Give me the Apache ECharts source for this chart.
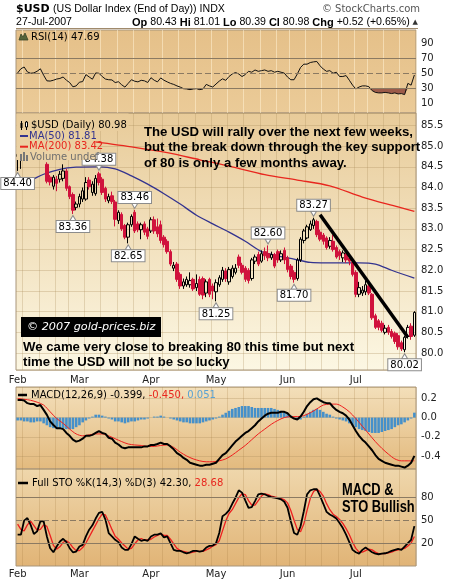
<!DOCTYPE html>
<html><head><meta charset="utf-8">
<script src="https://cdn.jsdelivr.net/npm/echarts@6/dist/echarts.min.js"></script>
<style>html,body{margin:0;padding:0;background:#fff}#c{width:460px;height:582px}</style>
</head><body><div id="c"></div>
<script>
const dates = [
'2007-02-01','2007-02-02','2007-02-05','2007-02-06','2007-02-07','2007-02-08','2007-02-09','2007-02-12','2007-02-13','2007-02-14','2007-02-15','2007-02-16','2007-02-20','2007-02-21','2007-02-22','2007-02-23','2007-02-26','2007-02-27','2007-02-28',
'2007-03-01','2007-03-02','2007-03-05','2007-03-06','2007-03-07','2007-03-08','2007-03-09','2007-03-12','2007-03-13','2007-03-14','2007-03-15','2007-03-16','2007-03-19','2007-03-20','2007-03-21','2007-03-22','2007-03-23','2007-03-26','2007-03-27','2007-03-28','2007-03-29','2007-03-30',
'2007-04-02','2007-04-03','2007-04-04','2007-04-05','2007-04-09','2007-04-10','2007-04-11','2007-04-12','2007-04-13','2007-04-16','2007-04-17','2007-04-18','2007-04-19','2007-04-20','2007-04-23','2007-04-24','2007-04-25','2007-04-26','2007-04-27','2007-04-30',
'2007-05-01','2007-05-02','2007-05-03','2007-05-04','2007-05-07','2007-05-08','2007-05-09','2007-05-10','2007-05-11','2007-05-14','2007-05-15','2007-05-16','2007-05-17','2007-05-18','2007-05-21','2007-05-22','2007-05-23','2007-05-24','2007-05-25','2007-05-29','2007-05-30','2007-05-31',
'2007-06-01','2007-06-04','2007-06-05','2007-06-06','2007-06-07','2007-06-08','2007-06-11','2007-06-12','2007-06-13','2007-06-14','2007-06-15','2007-06-18','2007-06-19','2007-06-20','2007-06-21','2007-06-22','2007-06-25','2007-06-26','2007-06-27','2007-06-28','2007-06-29',
'2007-07-02','2007-07-03','2007-07-05','2007-07-06','2007-07-09','2007-07-10','2007-07-11','2007-07-12','2007-07-13','2007-07-16','2007-07-17','2007-07-18','2007-07-19','2007-07-20','2007-07-23','2007-07-24','2007-07-25','2007-07-26','2007-07-27'];

const openP = [84.75,84.80,84.85,84.95,85.05,84.95,85.00,84.90,84.95,84.56,84.25,84.03,84.20,84.20,84.22,84.40,84.02,83.83,83.52,83.60,
83.72,83.72,84.18,83.88,83.85,84.33,84.20,83.98,83.68,83.80,83.65,83.20,83.35,83.08,82.80,83.10,83.40,83.12,82.98,83.12,
83.00,82.95,83.22,83.05,83.10,82.80,82.70,82.45,82.05,82.15,81.90,81.62,81.65,81.65,81.78,81.58,81.78,81.80,81.45,81.78,
81.62,81.48,81.65,81.78,81.98,81.72,81.85,81.95,82.32,82.12,82.05,82.00,81.80,82.22,82.38,82.22,82.45,82.40,82.30,82.38,
82.45,82.25,82.48,82.30,82.10,81.95,81.80,82.25,82.72,82.78,82.98,83.08,83.18,82.92,82.85,82.78,82.58,82.70,82.55,82.45,
82.30,82.38,82.30,82.20,81.95,81.42,81.45,81.48,81.62,81.42,80.90,80.78,80.72,80.50,80.62,80.52,80.48,80.42,80.25,80.08,
80.40,80.65,80.43];
const closeP = [84.80,84.85,84.95,85.05,84.95,85.00,84.90,84.95,84.85,84.15,84.13,84.25,84.10,84.32,84.40,83.98,83.78,83.45,83.60,83.78,
83.92,84.12,84.02,84.08,84.22,84.12,83.88,83.72,83.78,83.66,83.23,83.40,83.00,82.80,83.10,83.30,82.95,82.98,83.10,82.92,
82.82,83.22,82.95,82.88,82.72,82.62,82.45,82.15,82.12,81.78,81.62,81.72,81.78,81.75,81.55,81.68,81.42,81.40,81.72,81.42,
81.50,81.70,81.82,82.00,81.80,82.02,82.05,82.05,82.12,81.95,81.78,81.75,82.25,82.32,82.15,82.40,82.35,82.30,82.38,82.10,
82.25,82.40,82.25,82.02,81.85,81.78,82.25,82.75,82.95,83.05,83.12,83.22,82.86,82.75,82.70,82.55,82.72,82.50,82.32,82.35,
82.42,82.25,82.22,81.90,81.42,81.58,81.52,81.65,81.45,80.85,80.62,80.62,80.55,80.60,80.50,80.40,80.28,80.15,80.10,80.38,
80.62,80.40,80.98];
const lowP = [84.40,84.45,84.78,84.85,84.85,84.82,84.80,84.78,84.76,84.10,84.05,83.95,83.91,84.12,84.15,83.92,83.72,83.36,83.45,83.52,
83.65,83.68,83.95,83.80,83.80,84.05,83.82,83.65,83.62,83.60,83.06,83.12,82.95,82.75,82.65,83.05,82.90,82.92,82.75,82.85,
82.75,82.90,82.88,82.80,82.65,82.55,82.40,82.10,81.98,81.72,81.55,81.55,81.60,81.58,81.50,81.50,81.38,81.30,81.35,81.35,
81.30,81.25,81.60,81.72,81.72,81.65,81.80,81.90,82.05,81.90,81.72,81.68,81.75,82.15,82.10,82.18,82.25,82.22,82.25,82.05,
82.18,82.20,82.15,81.95,81.78,81.70,81.75,82.20,82.65,82.75,82.95,83.00,82.80,82.70,82.62,82.50,82.52,82.45,82.28,82.25,
82.20,82.18,82.12,81.85,81.35,81.35,81.38,81.40,81.40,80.80,80.58,80.55,80.50,80.45,80.44,80.35,80.22,80.08,80.05,80.02,
80.35,80.32,80.39];
const highP = [84.95,85.00,85.05,85.15,85.15,85.10,85.10,85.05,85.00,84.61,84.30,84.30,84.28,84.40,84.56,84.45,84.05,83.88,83.66,83.85,
84.00,84.25,84.25,84.15,84.30,84.38,84.25,84.02,83.85,83.90,83.70,83.45,83.40,83.12,83.15,83.35,83.46,83.18,83.15,83.18,
83.05,83.28,83.30,83.25,83.20,82.85,82.75,82.50,82.20,82.20,81.95,81.80,81.85,81.95,81.82,81.90,81.85,81.85,81.78,81.82,
81.68,81.78,81.88,82.08,82.05,82.08,82.12,82.15,82.38,82.18,82.10,82.05,82.30,82.38,82.45,82.48,82.55,82.60,82.45,82.42,
82.50,82.48,82.55,82.35,82.15,82.00,82.30,82.80,83.00,83.10,83.20,83.27,83.22,82.98,82.90,82.82,82.80,82.85,82.60,82.50,
82.48,82.42,82.35,82.25,82.00,81.72,81.62,81.75,81.68,81.45,80.95,80.82,80.78,80.68,80.68,80.58,80.52,80.48,80.30,80.42,
80.68,80.72,81.01];

const ma50Pts = [[0,84.05],[4,84.17],[8,84.32],[13,84.44],[18,84.49],[25,84.50],[30,84.45],[35,84.28],[40,84.08],[45,83.85],[50,83.60],[55,83.33],[60,83.12],[65,82.92],[70,82.70],[75,82.45],[80,82.35],[85,82.27],[90,82.19],[95,82.18],[100,82.18],[105,82.18],[110,82.15],[115,82.00],[122,81.81]];
const ma200Pts = [[21,85.13],[35,84.98],[46,84.84],[56,84.67],[66,84.50],[76,84.31],[86,84.18],[96,84.04],[106,83.77],[117,83.53],[122,83.42]];
const trendLine = [[93,83.34],[120,80.38]];
const callouts = [
 {i:0,v:84.40,side:'low'},{i:17,v:83.36,side:'low'},{i:25,v:84.38,side:'high'},{i:34,v:82.65,side:'low'},
 {i:36,v:83.46,side:'high'},{i:61,v:81.25,side:'low'},{i:77,v:82.60,side:'high'},{i:85,v:81.70,side:'low'},
 {i:91,v:83.27,side:'high'},{i:119,v:80.02,side:'low'}];

const rsi = [50.4,56,58.4,51.8,50,50.5,52.7,56,47.3,39.8, 39.5,40.6,42.2,43,45,40.6,37.5,31.8,33,38,
38.8,48.2,45,42,50.4,50,45.6,42.2,41.3,41, 37.5,38.6,34.5,31.4,36.4,41.3,39.3,38.4,40.5,39.8,
37.6,44,40.6,38.4,43.7,40.6,38.4,36.4,35,33, 31.4,29.3,28.9,28,28.9,29.3,28,28.9,35,33,
31.5,35.5,39.4,42.5,40.5,45.6,49,51,49,45.6, 48.2,52.6,51.4,54.4,52.6,53.5,54.4,52.6,53.5,51.4,
52.6,51.4,50.2,44.9,41.3,41.3,49,57.8,62.2,62.2, 64.4,65.3,65.8,60,55.6,52.6,53.5,50,51.4,45.6,
45.6,46.9,40.6,34,28.9,31.5,33,33,32,26.7, 24.3,23.6,23.6,24.3,23.6,22.7,23.6,22.2,22.7,21.3,
36.4,34,47.69];

const macd = [0.184,0.184,0.178,0.15,0.14,0.14,0.12,0.13,0.08,0.028,
-0.04,-0.077,-0.11,-0.11,-0.12,-0.16,-0.19,-0.23,-0.25,-0.24,
-0.22,-0.19,-0.19,-0.18,-0.16,-0.14,-0.16,-0.17,-0.21,-0.22,
-0.26,-0.28,-0.31,-0.32,-0.31,-0.31,-0.31,-0.31,-0.31,-0.30,
-0.30,-0.285,-0.285,-0.275,-0.26,-0.275,-0.275,-0.30,-0.33,-0.37,
-0.39,-0.42,-0.44,-0.47,-0.48,-0.49,-0.50,-0.50,-0.49,-0.49,
-0.48,-0.47,-0.43,-0.39,-0.37,-0.33,-0.29,-0.25,-0.22,-0.19,
-0.16,-0.14,-0.11,-0.08,-0.04,-0.01,0.02,0.04,0.05,0.05,
0.05,0.06,0.06,0.045,0.01,-0.01,-0.02,0.01,0.06,0.12,
0.16,0.19,0.20,0.18,0.16,0.15,0.15,0.11,0.08,0.06,
0.045,0.02,-0.02,-0.08,-0.14,-0.19,-0.23,-0.26,-0.30,-0.34,
-0.39,-0.43,-0.45,-0.47,-0.48,-0.49,-0.50,-0.50,-0.51,-0.52,
-0.50,-0.47,-0.399];
const signalPts = [[0,0.20],[2,0.19],[4,0.18],[6,0.16],[8,0.13],[10,0.06],[12,-0.01],[14,-0.06],[16,-0.12],[18,-0.17],[20,-0.19],[22,-0.18],[24,-0.17],[26,-0.17],[28,-0.19],[30,-0.22],[32,-0.25],[34,-0.275],[36,-0.285],[38,-0.29],[40,-0.30],[42,-0.30],[44,-0.29],[46,-0.285],[48,-0.31],[50,-0.36],[52,-0.40],[54,-0.43],[56,-0.45],[58,-0.46],[60,-0.46],[62,-0.45],[64,-0.43],[66,-0.39],[68,-0.34],[70,-0.29],[72,-0.23],[74,-0.17],[76,-0.12],[78,-0.07],[80,-0.03],[82,0.00],[84,0.01],[86,0.01],[88,0.02],[90,0.05],[92,0.09],[94,0.13],[96,0.14],[98,0.14],[100,0.11],[102,0.06],[104,-0.01],[106,-0.09],[108,-0.17],[110,-0.25],[112,-0.32],[114,-0.38],[116,-0.43],[118,-0.45],[120,-0.45],[122,-0.45]];
const hist = [-0.03,-0.03,-0.04,-0.04,-0.05,-0.05,-0.04,-0.04,-0.06,-0.08,
-0.10,-0.11,-0.12,-0.12,-0.11,-0.12,-0.12,-0.12,-0.10,-0.08,
-0.05,-0.03,-0.01,0.01,0.03,0.03,0.02,0.01,-0.01,-0.02,
-0.04,-0.04,-0.05,-0.06,-0.05,-0.04,-0.04,-0.03,-0.02,-0.02,
-0.01,0.00,0.01,0.01,0.02,0.01,0.00,-0.01,-0.02,-0.03,
-0.04,-0.05,-0.05,-0.06,-0.06,-0.06,-0.06,-0.05,-0.04,-0.03,
-0.02,-0.01,0.01,0.03,0.05,0.07,0.09,0.10,0.11,0.12,
0.12,0.12,0.11,0.10,0.10,0.10,0.10,0.10,0.10,0.09,
0.08,0.07,0.06,0.04,0.02,0.00,-0.02,-0.02,0.01,0.04,
0.06,0.08,0.09,0.08,0.06,0.04,0.03,0.01,-0.01,-0.02,
-0.03,-0.04,-0.06,-0.08,-0.10,-0.12,-0.13,-0.14,-0.15,-0.16,
-0.16,-0.16,-0.15,-0.14,-0.13,-0.12,-0.10,-0.08,-0.07,-0.05,
-0.03,-0.01,0.051];

const stoK = [31,31,49.6,53,44,32,35.4,48.7,48.7,28.7, 13.2,7.8,15.4,22,25.6,21.2,13.2,7.8,8.7,15.4,
17.6,28.7,37.6,43.4,52.3,59.8,61.2,51,33.2,28.7, 24.3,21.2,14.1,11,11,18.5,28.7,25.6,23,24.3,
23,28.7,31,31,32.7,27.4,28.7,19.8,11,9.6, 9.6,7.8,6.5,7.8,9.6,9.6,8.7,9.6,14.1,16.3,
16.7,19.8,33.2,55.4,58.5,63,71.8,79.8,89.6,86.5, 76.3,66.5,67.4,75.4,84.3,85.2,84.3,82.1,80.7,79.8,
79,77.6,74.5,66.5,48.7,33.2,31,42.1,62,84.3, 89.6,91,91,82.1,71.8,61.2,57.6,55.4,52.3,46.5,
39.8,31,21.2,11,7.8,6,11,14.1,11,7.8, 6,5.2,6,6.5,7.8,9.6,11,12.3,11,15.4,
19.8,24.3,42.30];
const stoD = [45,38,36,44,49,43,37,38,44,42, 30,17,12,15,21,23,20,14,10,10,
14,20,28,36,44,52,58,57,48,38, 29,25,20,16,12,13,19,24,26,24,
24,25,28,30,32,30,30,25,19,13, 10,9,8,7,8,9,9,9,11,13,
16,18,23,36,49,59,64,72,80,85, 84,76,70,70,76,82,85,84,82,81,
80,79,77,73,63,50,38,35,45,63, 79,88,91,88,82,72,64,58,55,51,
46,39,31,21,13,8,8,10,12,11, 8,6,6,6,7,8,10,11,12,13,
16,20,28.68];

const rsiTicks = [10,30,50,70,90];
const stoTicks = [20,50,80];

// ---------- derived helpers ----------
const MONTHS = ['Jan','Feb','Mar','Apr','May','Jun','Jul','Aug','Sep','Oct','Nov','Dec'];
const parsed = dates.map(s => { const p = s.split('-').map(Number); return new Date(p[0], p[1]-1, p[2]); });
const monthStart = parsed.map((d,i) => i === 0 || d.getMonth() !== parsed[i-1].getMonth());
const weekStart = parsed.map((d,i) => i > 0 && d.getDay() < parsed[i-1].getDay());

const FONT = 'DejaVu Sans';
function grad(c1, c2){ return {type:'linear',x:0,y:0,x2:0,y2:1,colorStops:[{offset:0,color:c1},{offset:1,color:c2}]}; }
const PANEL = {
  rsi:[ '#E5C089','#EBCB98'],
  main:['#E8CB99','#FCF7E3'],
  macd:['#F3DFBA','#E3BA7E'],
  sto:['#EFD7AC','#E1B476']
};
const grids = [
  {left:16, top:30, width:400, height:83, show:true, backgroundColor:grad(...PANEL.rsi), borderColor:'#A8957B', borderWidth:1},
  {left:16, top:113, width:400, height:257, show:true, backgroundColor:grad(...PANEL.main), borderColor:'#A8957B', borderWidth:1},
  {left:16, top:387, width:400, height:82, show:true, backgroundColor:grad(...PANEL.macd), borderColor:'#A8957B', borderWidth:1},
  {left:16, top:469, width:400, height:97, show:true, backgroundColor:grad(...PANEL.sto), borderColor:'#A8957B', borderWidth:1}
];
const vGrid = ['rgba(255,240,210,0.55)','rgba(170,140,90,0.28)','rgba(160,120,60,0.22)','rgba(160,120,60,0.22)'];
function xa(gi, showLabels, margin){
  return {type:'category', gridIndex:gi, data:dates, boundaryGap:true,
    axisLine:{show:false}, axisTick:{show:false},
    axisLabel:{show:showLabels, interval:(i)=>monthStart[i], formatter:(v)=>MONTHS[+v.slice(5,7)-1], margin:margin, color:'#222', fontFamily:FONT, fontSize:10},
    splitLine:{show:true, interval:(i)=>weekStart[i], lineStyle:{color:vGrid[gi], width:1}}};
}
const yLab = {color:'#222', fontFamily:FONT, fontSize:10, margin:5};
const hGrid = {show:true, lineStyle:{color:'rgba(170,140,90,0.30)', width:1}};
const yAxes = [
  {type:'value', gridIndex:0, position:'right', min:-3.4, max:108.1, splitLine:{show:false}, axisLine:{show:false}, axisTick:{show:false},
   axisLabel:Object.assign({customValues:rsiTicks}, yLab)},
  {type:'value', gridIndex:1, position:'right', min:79.59, max:85.80, splitNumber:12, splitLine:hGrid, axisLine:{show:false}, axisTick:{show:false},
   axisLabel:Object.assign({showMinLabel:false, showMaxLabel:false, formatter:(v)=> Math.abs(v*2-Math.round(v*2))<1e-6 ? v.toFixed(1) : ''}, yLab)},
  {type:'value', gridIndex:2, position:'right', min:-0.535, max:0.318, splitNumber:4, splitLine:hGrid, axisLine:{show:false}, axisTick:{show:false},
   axisLabel:Object.assign({showMinLabel:false, showMaxLabel:false, formatter:(v)=> Math.abs(v*5-Math.round(v*5))<1e-6 ? v.toFixed(1) : ''}, yLab)},
  {type:'value', gridIndex:3, position:'right', min:-10.3, max:117.7, splitLine:{show:false}, axisLine:{show:false}, axisTick:{show:false},
   axisLabel:Object.assign({customValues:stoTicks}, yLab)}
];

function refLines(vals){
  return {silent:true, symbol:['none','none'], label:{show:false},
    data: vals.map(v => ({yAxis:v, lineStyle:{color:'#8B7A62', width:1, type: v===50 ? [6,3] : 'solid'}}))};
}

const rsiBase = rsi.map(v => Math.min(v, 30));
const rsiGap = rsi.map(v => 30 - Math.min(v, 30));

const candleData = dates.map((d,i) => [openP[i], closeP[i], lowP[i], highP[i]]);
const markPts = callouts.map(c => ({
  coord:[dates[c.i], c.v], value:c.v,
  symbol:'triangle', symbolSize:[6,5], symbolRotate: c.side==='high' ? 180 : 0,
  symbolOffset:[0, c.side==='high' ? -4 : 4],
  itemStyle:{color:'#fff', borderColor:'#8C8C8C', borderWidth:1},
  label:{show:true, position: c.side==='high' ? 'top' : 'bottom', distance:0, formatter: c.v.toFixed(2),
    backgroundColor:'#fff', borderColor:'#8C8C8C', borderWidth:1, padding:[1,2,0,2], lineHeight:10,
    color:'#000', fontFamily:FONT, fontSize:10}
}));

const series = [
  // RSI
  {type:'line', xAxisIndex:0, yAxisIndex:0, data:rsiBase, stack:'rsiFill', showSymbol:false, lineStyle:{opacity:0}, silent:true, z:1},
  {type:'line', xAxisIndex:0, yAxisIndex:0, data:rsiGap, stack:'rsiFill', showSymbol:false, lineStyle:{opacity:0}, areaStyle:{color:'#9C5B49', opacity:1}, silent:true, z:1},
  {type:'line', xAxisIndex:0, yAxisIndex:0, data:rsi, showSymbol:false, lineStyle:{color:'#111', width:1}, z:3, markLine:refLines([70,50,30])},
  // Price
  {type:'line', xAxisIndex:1, yAxisIndex:1, data:ma200Pts, showSymbol:false, smooth:0.3, lineStyle:{color:'#E8261E', width:1.3}, z:2},
  {type:'line', xAxisIndex:1, yAxisIndex:1, data:ma50Pts, showSymbol:false, smooth:0.3, lineStyle:{color:'#33338F', width:1.3}, z:2},
  {type:'candlestick', xAxisIndex:1, yAxisIndex:1, data:candleData, barWidth:3, z:3,
    itemStyle:{color:'rgba(0,0,0,0)', color0:'#D0123C', borderColor:'#000', borderColor0:'#D0123C', borderWidth:1},
    markLine:{silent:true, symbol:['none','none'], label:{show:false}, lineStyle:{color:'#000', width:3.5, type:'solid'},
      data:[[{coord:[dates[trendLine[0][0]], trendLine[0][1]]},{coord:[dates[trendLine[1][0]], trendLine[1][1]]}]]},
    markPoint:{silent:true, data:markPts}
  },
  // MACD
  {type:'bar', xAxisIndex:2, yAxisIndex:2, data:hist, barWidth:2.6, itemStyle:{color:'#4590CA'}, z:1},
  {type:'line', xAxisIndex:2, yAxisIndex:2, data:signalPts, showSymbol:false, smooth:0.3, lineStyle:{color:'#F01E1E', width:1}, z:3},
  {type:'line', xAxisIndex:2, yAxisIndex:2, data:macd, showSymbol:false, lineStyle:{color:'#000', width:2}, z:4},
  // STO
  {type:'line', xAxisIndex:3, yAxisIndex:3, data:stoD, showSymbol:false, lineStyle:{color:'#EE2020', width:1.3}, z:3, markLine:refLines([80,50,20])},
  {type:'line', xAxisIndex:3, yAxisIndex:3, data:stoK, showSymbol:false, lineStyle:{color:'#000', width:1.8}, z:4}
];

function txt(x, y, text, font, fill, extra, elExtra){
  return Object.assign({type:'text', x:x, y:y, z:100, silent:true,
    style:Object.assign({text:text, font:font, fill:fill, align:'left', verticalAlign:'middle', textAlign:'left', textVerticalAlign:'middle'}, extra||{})}, elExtra||{});
}
const mainCoverFill = {type:'linear', x:0, y:113, x2:0, y2:370, global:true, colorStops:[{offset:0,color:PANEL.main[0]},{offset:1,color:PANEL.main[1]}]};
const LEG = '10px "DejaVu Sans"';
const NOTE = 'bold 13.2px "Liberation Sans"';
const graphics = [
  // header
  txt(16, 9, '$USD', 'bold 11px "DejaVu Sans"', '#000'),
  txt(53, 9.5, '(US Dollar Index (End of Day)) INDX', '10.6px "Liberation Sans"', '#000'),
  txt(420, 9.5, '\u00A9 StockCharts.com', '10px "DejaVu Sans"', '#555', {align:'right', textAlign:'right'}),
  txt(16, 22.5, '27-Jul-2007', '10.6px "Liberation Sans"', '#000'),
  txt(418, 22.5, '{b|Op} 80.43 {b|Hi} 81.01 {b|Lo} 80.39 {b|Cl} 80.98 {b|Chg} +0.52 (+0.65%) {t|\u25B2}', '10.6px "Liberation Sans"', '#000',
    {align:'right', textAlign:'right', rich:{b:{font:'bold 11px "Liberation Sans"', fill:'#000'}, t:{font:'7px "DejaVu Sans"', fill:'#333'}}}),
  {type:'line', z:100, silent:true, shape:{x1:16, y1:28.5, x2:418, y2:28.5}, style:{stroke:'#A08A6C', lineWidth:1}},
  // RSI legend
  {type:'polygon', z:100, silent:true, shape:{points:[[19,40],[21,34],[23,37],[25,33],[28,40]]}, style:{fill:'#55643A', stroke:'#3A4527', lineWidth:0.8}},
  txt(31, 37, 'RSI(14) 47.69', LEG, '#000'),
  // main legend cover
  {type:'rect', z:90, silent:true, shape:{x:16.5, y:113.5, width:112, height:17.5}, style:{fill:mainCoverFill}},
  {type:'rect', z:90, silent:true, shape:{x:16.5, y:131, width:79, height:29}, style:{fill:mainCoverFill}},
  {type:'line', z:100, silent:true, shape:{x1:21.5, y1:121, x2:21.5, y2:130}, style:{stroke:'#000', lineWidth:1}},
  {type:'rect', z:100, silent:true, shape:{x:20.5, y:123, width:2, height:5}, style:{fill:'#000'}},
  {type:'line', z:100, silent:true, shape:{x1:26.5, y1:121, x2:26.5, y2:130}, style:{stroke:'#000', lineWidth:1}},
  {type:'rect', z:100, silent:true, shape:{x:25.5, y:122, width:2, height:5}, style:{fill:'#fff', stroke:'#000', lineWidth:1}},
  txt(31, 125.7, '$USD (Daily) 80.98', LEG, '#000'),
  {type:'line', z:100, silent:true, shape:{x1:20, y1:136, x2:28, y2:136}, style:{stroke:'#33338F', lineWidth:2}},
  txt(29, 136, 'MA(50) 81.81', LEG, '#33338F'),
  {type:'line', z:100, silent:true, shape:{x1:20, y1:146.7, x2:28, y2:146.7}, style:{stroke:'#E8261E', lineWidth:2}},
  txt(29, 146.7, 'MA(200) 83.42', LEG, '#E8261E'),
  {type:'rect', z:100, silent:true, shape:{x:20, y:154, width:2, height:7}, style:{fill:'#777'}},
  {type:'rect', z:100, silent:true, shape:{x:23, y:152, width:2, height:9}, style:{fill:'#777'}},
  {type:'rect', z:100, silent:true, shape:{x:26, y:155, width:2, height:6}, style:{fill:'#777'}},
  txt(30, 157.4, 'Volume undef', LEG, '#6E6E6E'),
  // main annotations
  txt(144, 132, 'The USD will rally over the next few weeks,', NOTE, '#000'),
  txt(144, 147.5, 'but the break down through the key support', NOTE, '#000'),
  txt(144, 163, 'of 80 is only a few months away.', NOTE, '#000'),
  {type:'rect', z:100, silent:true, shape:{x:21, y:317, width:140, height:20}, style:{fill:'#000'}},
  txt(27, 327, '\u00A9 2007 gold-prices.biz', 'italic 11.2px "DejaVu Sans"', '#fff'),
  txt(23, 347, 'We came very close to breaking 80 this time but next', NOTE, '#000'),
  txt(23, 362, 'time the USD will not be so lucky', NOTE, '#000'),
  // MACD legend
  {type:'line', z:100, silent:true, shape:{x1:18, y1:395, x2:27, y2:395}, style:{stroke:'#000', lineWidth:2.5}},
  txt(31, 395, 'MACD(12,26,9) -0.399, {r|-0.450,} {b|0.051}', LEG, '#000',
    {rich:{r:{font:LEG, fill:'#E8261E'}, b:{font:LEG, fill:'#5AA2D2'}}}),
  // STO legend
  {type:'line', z:100, silent:true, shape:{x1:18, y1:483, x2:28, y2:483}, style:{stroke:'#000', lineWidth:2.5}},
  txt(32, 483, 'Full STO %K(14,3) %D(3) 42.30, {r|28.68}', LEG, '#000', {rich:{r:{font:LEG, fill:'#E8261E'}}}),
  txt(342, 491, 'MACD &', 'bold 15.7px "Liberation Sans"', '#000', null, {scaleX:0.82}),
  txt(342, 507.5, 'STO Bullish', 'bold 15.7px "Liberation Sans"', '#000', null, {scaleX:0.82})
];

const chart = echarts.init(document.getElementById('c'), null, {renderer:'canvas'});
chart.setOption({
  animation:false,
  backgroundColor:'#fff',
  textStyle:{fontFamily:FONT},
  grid:grids,
  xAxis:[xa(0,false,0), xa(1,true,5), xa(2,false,0), xa(3,true,3)],
  yAxis:yAxes,
  series:series,
  graphic:{elements:graphics}
});
</script></body></html>
